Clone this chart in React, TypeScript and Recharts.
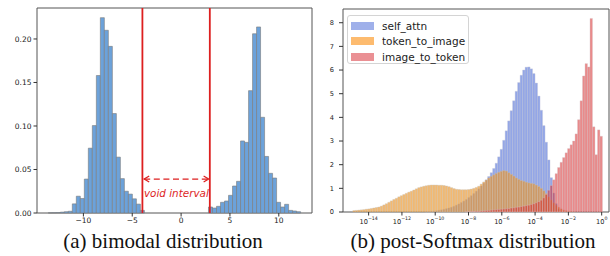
import React from 'react';
import { ComposedChart, Bar, XAxis, YAxis, ReferenceLine, ReferenceArea } from 'recharts';

// ---------- (a) bimodal distribution ----------
const bimodalBins = [
  -13.39, -12.98, -12.57, -12.16, -11.75, -11.34, -10.93, -10.52, -10.11, -9.7, -9.29, -8.88,
  -8.47, -8.06, -7.65, -7.24, -6.83, -6.42, -6.01, -5.6, -5.19, -4.78, -4.37, -3.96,
  3.01, 3.42, 3.83, 4.24, 4.65, 5.06, 5.47, 5.88, 6.29, 6.7, 7.11, 7.52,
  7.93, 8.34, 8.75, 9.16, 9.57, 9.98, 10.39, 10.8, 11.21, 11.62, 12.03,
];
const bimodalDensity = [
  0.0002, 0.0003, 0.0005, 0.001, 0.0015, 0.002, 0.0105, 0.0193, 0.0167, 0.039, 0.0745, 0.1005,
  0.158, 0.2245, 0.21, 0.1915, 0.1143, 0.0642, 0.0395, 0.025, 0.0217, 0.0163, 0.0102, 0.003,
  0.0069, 0.0057, 0.0077, 0.0123, 0.0138, 0.0203, 0.031, 0.0364, 0.0828, 0.0812, 0.1406, 0.206,
  0.2138, 0.11, 0.065, 0.0456, 0.0402, 0.0123, 0.0069, 0.01, 0.003, 0.0023, 0.0015,
];
const bimodalXTicks = [-10, -5, 0, 5, 10];
const bimodalXTickLabels = ['\u221210', '\u22125', '0', '5', '10'];
const bimodalYTicks = [0, 0.05, 0.1, 0.15, 0.2];
const bimodalYTickLabels = ['0.00', '0.05', '0.10', '0.15', '0.20'];
const voidBounds = [-3.96, 2.94];
const voidArrowLevel = 0.039;
const voidLabel = 'void interval';

// ---------- (b) post-Softmax distribution (x = log10 of probability) ----------
const softmaxBins = [
  -14.875, -14.725, -14.575, -14.425, -14.275, -14.125, -13.975, -13.825, -13.675, -13.525,
  -13.375, -13.225, -13.075, -12.925, -12.775, -12.625, -12.475, -12.325, -12.175, -12.025,
  -11.875, -11.725, -11.575, -11.425, -11.275, -11.125, -10.975, -10.825, -10.675, -10.525,
  -10.375, -10.225, -10.075, -9.925, -9.775, -9.625, -9.475, -9.325, -9.175, -9.025,
  -8.875, -8.725, -8.575, -8.425, -8.275, -8.125, -7.975, -7.825, -7.675, -7.525,
  -7.375, -7.225, -7.075, -6.925, -6.775, -6.625, -6.475, -6.325, -6.175, -6.025,
  -5.875, -5.725, -5.575, -5.425, -5.275, -5.125, -4.975, -4.825, -4.675, -4.525,
  -4.375, -4.225, -4.075, -3.925, -3.775, -3.625, -3.475, -3.325, -3.175, -3.025,
  -2.875, -2.725, -2.575, -2.425, -2.275, -2.125, -1.975, -1.825, -1.675, -1.525,
  -1.375, -1.225, -1.075, -0.925, -0.775, -0.625, -0.475, -0.325, -0.175, -0.025,
];
const selfAttn = [
  0, 0, 0, 0, 0, 0, 0, 0, 0, 0,
  0, 0, 0, 0, 0, 0, 0, 0, 0, 0,
  0, 0, 0, 0, 0, 0, 0, 0, 0, 0.01,
  0.02, 0.03, 0.04, 0.05, 0.07, 0.09, 0.11, 0.14, 0.17, 0.2,
  0.24, 0.29, 0.34, 0.4, 0.46, 0.53, 0.61, 0.69, 0.78, 0.88,
  0.98, 1.1, 1.22, 1.36, 1.5, 1.66, 1.84, 2.06, 2.33, 2.65,
  3.03, 3.43, 3.85, 4.28, 4.7, 5.1, 5.47, 5.78, 6.0, 6.12,
  6.13, 6.05, 5.85, 5.45, 4.9, 4.3, 3.65, 2.95, 2.2, 1.45,
  0.8, 0.35, 0.12, 0.04, 0.01, 0, 0, 0, 0, 0,
  0, 0, 0, 0, 0, 0, 0, 0, 0, 0,
];
const tokenToImage = [
  0.06, 0.07, 0.08, 0.09, 0.1, 0.12, 0.13, 0.15, 0.17, 0.19,
  0.21, 0.25, 0.3, 0.35, 0.41, 0.47, 0.53, 0.58, 0.64, 0.69,
  0.74, 0.79, 0.84, 0.88, 0.93, 0.98, 1.03, 1.06, 1.09, 1.11,
  1.13, 1.14, 1.14, 1.14, 1.13, 1.13, 1.12, 1.1, 1.07, 1.03,
  0.99, 0.96, 0.95, 0.94, 0.94, 0.94, 0.95, 0.97, 1.0, 1.04,
  1.09, 1.18, 1.27, 1.35, 1.44, 1.51, 1.57, 1.63, 1.68, 1.72,
  1.75, 1.73, 1.66, 1.59, 1.52, 1.44, 1.38, 1.33, 1.3, 1.26,
  1.23, 1.21, 1.19, 1.14, 1.08, 1.0, 0.9, 0.78, 0.64, 0.51,
  0.39, 0.29, 0.2, 0.13, 0.08, 0.05, 0.03, 0.02, 0.01, 0,
  0, 0, 0, 0, 0, 0, 0, 0, 0, 0,
];
const imageToToken = [
  0, 0, 0, 0, 0, 0, 0, 0, 0, 0,
  0, 0, 0, 0, 0, 0, 0, 0, 0, 0,
  0, 0, 0, 0, 0, 0, 0, 0, 0, 0,
  0, 0, 0, 0, 0, 0, 0, 0, 0, 0,
  0, 0, 0, 0, 0, 0.01, 0.01, 0.02, 0.02, 0.03,
  0.03, 0.04, 0.05, 0.06, 0.07, 0.08, 0.09, 0.1, 0.11, 0.12,
  0.13, 0.14, 0.15, 0.17, 0.18, 0.2, 0.21, 0.23, 0.25, 0.27,
  0.29, 0.32, 0.35, 0.39, 0.44, 0.5, 0.6, 0.74, 0.92, 1.12,
  1.36, 1.62, 1.88, 2.1, 2.3, 2.5, 2.68, 2.84, 3.0, 3.3,
  3.9, 4.7, 5.75, 6.27, 6.13, 8.18, 3.6, 2.42, 3.47, 3.2,
];
const softmaxXTicks = [-14, -12, -10, -8, -6, -4, -2, 0];
const softmaxXTickExponents = ['\u221214', '\u221212', '\u221210', '\u22128', '\u22126', '\u22124', '\u22122', '0'];
const softmaxYTicks = [0, 1, 2, 3, 4, 5, 6, 7, 8];
const seriesNames = ['self_attn', 'token_to_image', 'image_to_token'];
const seriesFills = ['#4566d6', '#ee921f', '#d62728'];
const legendFills = ['#9fb0ea', '#fdbb6f', '#ea9094'];
const captions = ['(a) bimodal distribution', '(b) post-Softmax distribution'];

const bimodalData = bimodalBins.map((x, i) => ({ x, d: bimodalDensity[i] }));
const softmaxData = softmaxBins.map((x, i) => ({
  x,
  s0: selfAttn[i] > 0 ? selfAttn[i] : null,
  s1: tokenToImage[i] > 0 ? tokenToImage[i] : null,
  s2: imageToToken[i] > 0 ? imageToToken[i] : null,
}));

const FONT = 'DejaVu Sans, sans-serif';
const RED = '#dd1f1f';
const SPINE = '#555';

const VoidArrow = (p: any) => {
  const { x1, y1, x2 } = p;
  if (x1 == null) return null;
  return (
    <g>
      <line x1={x1 + 1} y1={y1} x2={x2 - 1} y2={y1} stroke={RED} strokeWidth={1.3} strokeDasharray="6 3.6" />
      <polyline points={`${x1 + 6},${y1 - 3} ${x1 + 1},${y1} ${x1 + 6},${y1 + 3}`} fill="none" stroke={RED} strokeWidth={1.3} />
      <polyline points={`${x2 - 6},${y1 - 3} ${x2 - 1},${y1} ${x2 - 6},${y1 + 3}`} fill="none" stroke={RED} strokeWidth={1.3} />
      <text x={(x1 + x2) / 2} y={y1 + 17.7} textAnchor="middle" fontStyle="italic" fontSize={10.4} fontFamily={FONT} fill={RED}>
        {voidLabel}
      </text>
    </g>
  );
};

const LogTick = (p: any) => {
  const { x, y, payload, index } = p;
  const idx = softmaxXTicks.indexOf(payload.value);
  const exp = softmaxXTickExponents[idx >= 0 ? idx : index];
  return (
    <text x={x} y={y + 6.5} textAnchor="middle" fontSize={6.6} fontFamily={FONT} fill="#222">
      <tspan>10</tspan>
      <tspan dy={-3.4} fontSize={4.7}>{exp}</tspan>
    </text>
  );
};

const BimodalChart = () => (
  <ComposedChart width={320} height={235} data={bimodalData} margin={{ top: 8, right: 8, left: 0, bottom: 0 }}>
    <XAxis
      dataKey="x"
      type="number"
      domain={[-14.75, 13.4]}
      ticks={bimodalXTicks}
      tickFormatter={(v: number) => bimodalXTickLabels[bimodalXTicks.indexOf(v)]}
      height={22}
      tickSize={3.5}
      tickMargin={1}
      axisLine={false}
      tickLine={{ stroke: '#333' }}
      tick={{ fontSize: 7.5, fill: '#222', fontFamily: FONT }}
      interval={0}
    />
    <YAxis
      type="number"
      domain={[0, 0.2356]}
      ticks={bimodalYTicks}
      tickFormatter={(v: number) => bimodalYTickLabels[bimodalYTicks.indexOf(v)]}
      width={37}
      tickSize={3.5}
      tickMargin={2}
      axisLine={false}
      tickLine={{ stroke: '#333' }}
      tick={{ fontSize: 7.5, fill: '#222', fontFamily: FONT }}
      interval={0}
    />
    <Bar dataKey="d" fill="#6ca2da" stroke="#7a7a7a" strokeWidth={0.6} barSize={4} isAnimationActive={false} />
    <ReferenceArea x1={-14.75} x2={13.4} y1={0} y2={0.2356} fill="none" stroke={SPINE} strokeWidth={1} />
    <ReferenceLine x={voidBounds[0]} stroke={RED} strokeWidth={1.8} />
    <ReferenceLine x={voidBounds[1]} stroke={RED} strokeWidth={1.8} />
    <ReferenceLine
      segment={[{ x: voidBounds[0] + 0.08, y: voidArrowLevel }, { x: voidBounds[1] - 0.02, y: voidArrowLevel }]}
      shape={VoidArrow}
    />
  </ComposedChart>
);

const SoftmaxChart = () => (
  <ComposedChart width={298} height={235} data={softmaxData} margin={{ top: 9, right: 1, left: 0, bottom: 0 }}>
    <XAxis
      xAxisId="a"
      dataKey="x"
      type="number"
      domain={[-15.54, 0.44]}
      ticks={softmaxXTicks}
      height={23}
      tickSize={3.5}
      tickMargin={1.5}
      axisLine={false}
      tickLine={{ stroke: '#333' }}
      tick={<LogTick />}
      interval={0}
    />
    <XAxis xAxisId="b" dataKey="x" type="number" domain={[-15.54, 0.44]} hide />
    <XAxis xAxisId="c" dataKey="x" type="number" domain={[-15.54, 0.44]} hide />
    <YAxis
      type="number"
      domain={[0, 8.58]}
      ticks={softmaxYTicks}
      width={31}
      tickSize={4}
      tickMargin={5}
      axisLine={false}
      tickLine={{ stroke: '#333' }}
      tick={{ fontSize: 6.6, fill: '#222', fontFamily: FONT }}
      interval={0}
    />
    <Bar xAxisId="a" dataKey="s0" name={seriesNames[0]} fill={seriesFills[0]} fillOpacity={0.58} stroke="#c4c7d6" strokeOpacity={0.7} strokeWidth={0.5} barSize={2.45} isAnimationActive={false} />
    <Bar xAxisId="b" dataKey="s1" name={seriesNames[1]} fill={seriesFills[1]} fillOpacity={0.64} stroke="#c9c2b8" strokeOpacity={0.7} strokeWidth={0.5} barSize={2.45} isAnimationActive={false} />
    <Bar xAxisId="c" dataKey="s2" name={seriesNames[2]} fill={seriesFills[2]} fillOpacity={0.54} stroke="#d6c4c6" strokeOpacity={0.7} strokeWidth={0.5} barSize={2.45} isAnimationActive={false} />
    <ReferenceArea xAxisId="a" x1={-15.54} x2={0.44} y1={0} y2={8.58} fill="none" stroke={SPINE} strokeWidth={1} />
  </ComposedChart>
);

const Legend = () => (
  <div
    style={{
      position: 'absolute',
      left: 347,
      top: 15,
      width: 122,
      height: 49,
      border: '1px solid #d4d4d4',
      borderRadius: 3,
      background: 'rgba(255,255,255,0.85)',
      fontFamily: FONT,
      fontSize: 10.5,
      color: '#222',
      boxSizing: 'border-box',
    }}
  >
    {seriesNames.map((name, i) => (
      <div key={name} style={{ position: 'absolute', left: 3, top: 3.5 + i * 15.5, height: 12, display: 'flex', alignItems: 'center' }}>
        <div style={{ width: 23, height: 8, background: legendFills[i] }} />
        <span style={{ marginLeft: 8, lineHeight: '12px', whiteSpace: 'nowrap' }}>{name}</span>
      </div>
    ))}
  </div>
);

export default function App() {
  return (
    <div style={{ position: 'absolute', left: 0, top: 0, width: 610, height: 256, background: '#fff', overflow: 'hidden' }}>
      <div style={{ position: 'absolute', left: 0, top: 0 }}>
        <BimodalChart />
      </div>
      <div style={{ position: 'absolute', left: 312, top: 0 }}>
        <SoftmaxChart />
      </div>
      <Legend />
      <div style={{ position: 'absolute', left: 13, width: 300, top: 229, textAlign: 'center', fontFamily: '"Liberation Serif", "Times New Roman", serif', fontSize: 21, lineHeight: '24px', color: '#111', whiteSpace: 'nowrap' }}>
        {captions[0]}
      </div>
      <div style={{ position: 'absolute', left: 323, width: 300, top: 229, textAlign: 'center', fontFamily: '"Liberation Serif", "Times New Roman", serif', fontSize: 21, lineHeight: '24px', color: '#111', whiteSpace: 'nowrap' }}>
        {captions[1]}
      </div>
    </div>
  );
}
